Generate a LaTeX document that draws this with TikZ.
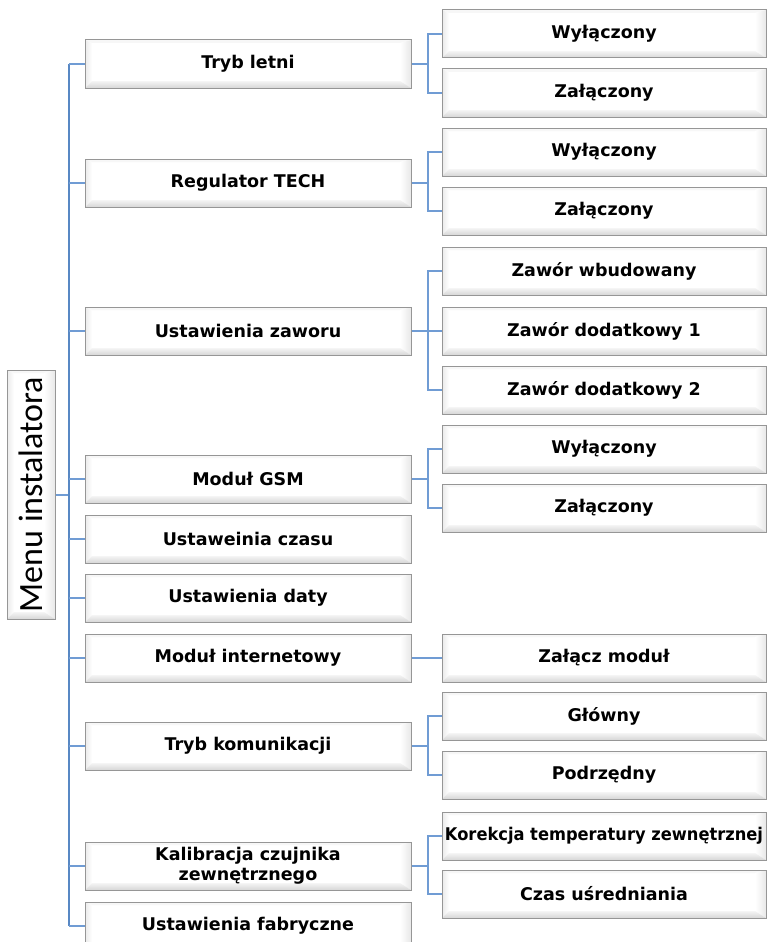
\documentclass[tikz,border=0pt]{standalone}
\usepackage{fontspec}
\usepackage{graphicx}
\newfontfamily\boxfont{DejaVu Sans}
\newfontfamily\rootfont{Carlito}
\usetikzlibrary{calc}
\definecolor{trunkblue}{RGB}{88,136,196}
\definecolor{linkblue}{RGB}{112,156,212}
\definecolor{bordergray}{RGB}{150,150,150}
\tikzset{
  bevel/.style={path picture={
    \path (path picture bounding box.north west) coordinate (bNW)
          (path picture bounding box.north east) coordinate (bNE)
          (path picture bounding box.south west) coordinate (bSW)
          (path picture bounding box.south east) coordinate (bSE);
    \fill[gray!6]  (bNW) -- (bNE) -- ($(bNE)+(-11,-3)$) -- ($(bNW)+(7,-3)$) -- cycle;
    \shade[left color=gray!16, right color=white] (bNW) -- ($(bNW)+(7,-3)$) -- ($(bSW)+(7,7)$) -- (bSW) -- cycle;
    \shade[left color=white, right color=gray!18] (bNE) -- ($(bNE)+(-11,-3)$) -- ($(bSE)+(-11,7)$) -- (bSE) -- cycle;
    \shade[top color=gray!8, bottom color=gray!32] (bSW) -- ($(bSW)+(7,7)$) -- ($(bSE)+(-11,7)$) -- (bSE) -- cycle;
  }},
  basebox/.style={rectangle, draw=bordergray, line width=1pt, fill=white, bevel,
    inner sep=0pt, align=center},
  lonebox/.style={basebox, minimum width=326pt, minimum height=48pt,
    font=\boxfont\bfseries\fontsize{17.5}{20}\selectfont},
  ltwobox/.style={basebox, minimum width=324pt, minimum height=48pt,
    font=\boxfont\bfseries\fontsize{17.5}{20}\selectfont},
  rootbox/.style={basebox, minimum width=48pt, minimum height=249pt,
    font=\rootfont\fontsize{34}{34}\selectfont},
  trunk/.style={draw=trunkblue, line width=2.6pt},
  link/.style={draw=linkblue, line width=2pt},
}
\begin{document}
\begin{tikzpicture}[x=1pt,y=1pt]
\useasboundingbox (0,0) rectangle (768,-942);

% root
\node[rootbox] (root) at (31,-494.5) {\rotatebox{90}{Menu instalatora}};

% level 1
\node[lonebox] (tl)  at (248,-64)  {Tryb letni};
\node[lonebox] (rt)  at (248,-183) {Regulator TECH};
\node[lonebox] (uz)  at (248,-331) {Ustawienia zaworu};
\node[lonebox] (gsm) at (248,-479) {Moduł GSM};
\node[lonebox] (uc)  at (248,-539) {Ustaweinia czasu};
\node[lonebox] (ud)  at (248,-598) {Ustawienia daty};
\node[lonebox] (mi)  at (248,-658) {Moduł internetowy};
\node[lonebox] (tk)  at (248,-746) {Tryb komunikacji};
\node[lonebox] (kc)  at (248,-866) {Kalibracja czujnika\\zewnętrznego};
\node[lonebox] (uf)  at (248,-926) {Ustawienia fabryczne};

% level 2
\node[ltwobox] (tl1) at (604,-34)  {Wyłączony};
\node[ltwobox] (tl2) at (604,-93)  {Załączony};
\node[ltwobox] (rt1) at (604,-152) {Wyłączony};
\node[ltwobox] (rt2) at (604,-211) {Załączony};
\node[ltwobox] (uz1) at (604,-271) {Zawór wbudowany};
\node[ltwobox] (uz2) at (604,-331) {Zawór dodatkowy 1};
\node[ltwobox] (uz3) at (604,-390) {Zawór dodatkowy 2};
\node[ltwobox] (gs1) at (604,-449) {Wyłączony};
\node[ltwobox] (gs2) at (604,-508) {Załączony};
\node[ltwobox] (mi1) at (604,-658) {Załącz moduł};
\node[ltwobox] (tk1) at (604,-716) {Główny};
\node[ltwobox] (tk2) at (604,-775) {Podrzędny};
\node[ltwobox] (kc1) at (604,-836) {\scalebox{0.93}[1]{Korekcja temperatury zewnętrznej}};
\node[ltwobox] (kc2) at (604,-894) {Czas uśredniania};

% trunk
\coordinate (tj) at (69,-494.5);
\draw[link] (root.east) -- (tj);
\draw[trunk] (tj |- tl.west) -- (tj |- uf.west);
\foreach \n in {tl,rt,uz,gsm,uc,ud,mi,tk,kc,uf}
  \draw[link] (tj |- \n.west) -- (\n.west);

% brackets
\foreach \p/\c in {tl/tl1,tl/tl2,rt/rt1,rt/rt2,uz/uz1,uz/uz2,uz/uz3,gsm/gs1,gsm/gs2,
                   mi/mi1,tk/tk1,tk/tk2,kc/kc1,kc/kc2}
  \draw[link] (\p.east) -- ($(\p.east)+(16,0)$) |- (\c.west);
\end{tikzpicture}
\end{document}
